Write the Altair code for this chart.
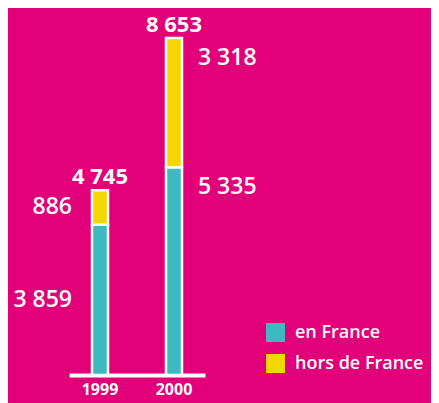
import altair as alt
import pandas as pd

years = ["1999", "2000"]
en_france = [3859, 5335]
hors_france = [886, 3318]
series = ["en France", "hors de France"]
colors = ["#3DB9C1", "#F4D600"]
BG = "#E2007A"
FONT = "Open Sans"

def fmt(v):
    return f"{v:,}".replace(",", " ")

rows = []
for i, y in enumerate(years):
    lo = 0
    for s, vals in zip(series, [en_france, hors_france]):
        v = vals[i]
        rows.append({"year": y, "series": s, "value": v, "order": series.index(s),
                     "lo": lo, "hi": lo + v, "mid": lo + v / 2, "label": fmt(v)})
        lo += v
df = pd.DataFrame(rows)
tot = pd.DataFrame({"year": years,
                    "total": [a + b for a, b in zip(en_france, hors_france)]})
tot["label"] = tot["total"].apply(fmt)

xscale = alt.Scale(domain=years, range=[61, 197], paddingInner=0.162, paddingOuter=0)
yscale = alt.Scale(domain=[0, 9424])

base = alt.Chart(df)

bars = base.mark_bar(size=16, stroke="white", strokeWidth=2.5).encode(
    x=alt.X("year:N", scale=xscale,
            axis=alt.Axis(title=None, labelAngle=0, ticks=False, domainColor="white",
                          domainWidth=4, labelColor="white", labelFontSize=16,
                          labelFontWeight="bold", labelFont=FONT, labelPadding=6)),
    y=alt.Y("value:Q", stack="zero", scale=yscale, axis=None),
    color=alt.Color("series:N", scale=alt.Scale(domain=series, range=colors),
                    legend=alt.Legend(title=None, orient="none", legendX=258, legendY=315,
                                      symbolType="square", symbolSize=361,
                                      symbolStrokeWidth=0, labelFontSize=18,
                                      labelFont=FONT, labelColor="white",
                                      labelFontWeight=600, labelLimit=200,
                                      rowPadding=12, labelOffset=10, padding=0)),
    order=alt.Order("order:Q"),
)

left_lbl = base.transform_filter(alt.datum.year == years[0]).mark_text(
    align="right", baseline="middle", dx=-28, fontSize=23, font=FONT,
    fontWeight=600, color="white").encode(
    x=alt.X("year:N", scale=xscale), y=alt.Y("mid:Q", scale=yscale), text="label:N")

right_lbl = base.transform_filter(alt.datum.year == years[1]).mark_text(
    align="left", baseline="middle", dx=24, dy=20, fontSize=23, font=FONT,
    fontWeight=600, color="white").encode(
    x=alt.X("year:N", scale=xscale), y=alt.Y("hi:Q", scale=yscale), text="label:N")

totals = alt.Chart(tot).mark_text(
    align="center", baseline="alphabetic", dy=-6, fontSize=22, font=FONT,
    fontWeight="bold", color="white").encode(
    x=alt.X("year:N", scale=xscale), y=alt.Y("total:Q", scale=yscale), text="label:N")

chart = alt.layer(bars, left_lbl, right_lbl, totals).properties(
    width=423, height=367,
    autosize=alt.AutoSizeParams(type="none"),
    padding={"left": 0, "top": 0, "right": 0, "bottom": 28},
    background=BG,
).configure_view(stroke=None).configure_axis(grid=False)

chart.save("out.html", embed_options={"renderer": "svg", "actions": False})
